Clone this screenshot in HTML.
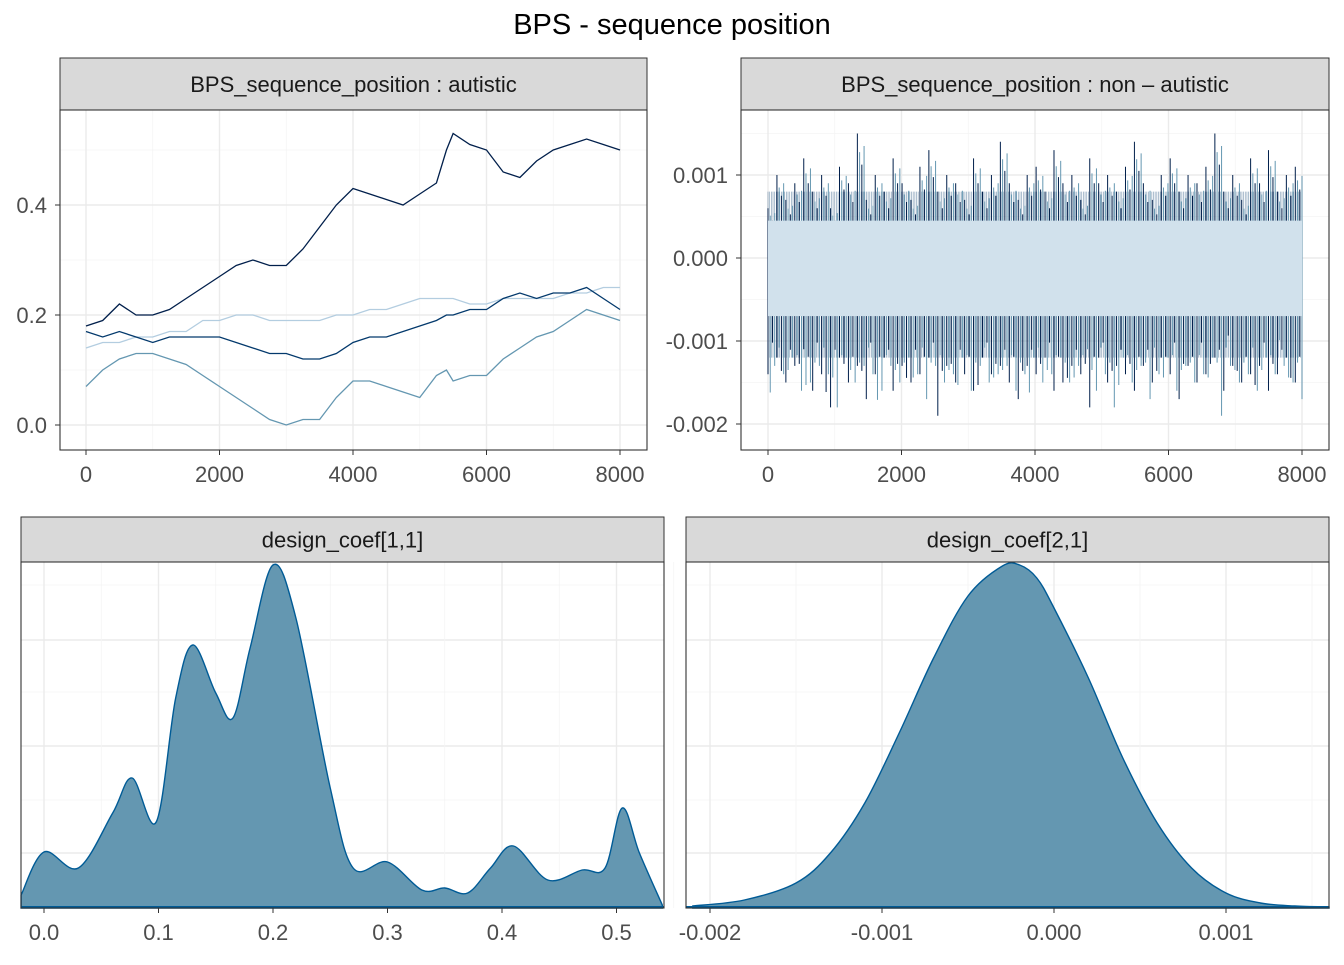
<!DOCTYPE html>
<html><head><meta charset="utf-8"><style>
body{margin:0;background:#fff}
svg text{font-family:"Liberation Sans",Arial,sans-serif}
</style></head><body>
<svg id="c" width="1344" height="960" xmlns="http://www.w3.org/2000/svg">
<text x="672" y="34" text-anchor="middle" font-size="29" fill="#000">BPS - sequence position</text>
</svg>
<script>
// ---------- data ----------
const traceIter = [0,250,500,750,1000,1250,1500,1750,2000,2250,2500,2750,3000,3250,3500,3750,4000,4250,4500,4750,5000,5250,5400,5500,5750,6000,6250,6500,6750,7000,7250,7500,7750,8000];
const chainA = [0.18,0.19,0.22,0.20,0.20,0.21,0.23,0.25,0.27,0.29,0.30,0.29,0.29,0.32,0.36,0.40,0.43,0.42,0.41,0.40,0.42,0.44,0.50,0.53,0.51,0.50,0.46,0.45,0.48,0.50,0.51,0.52,0.51,0.50];
const chainB = [0.17,0.16,0.17,0.16,0.15,0.16,0.16,0.16,0.16,0.15,0.14,0.13,0.13,0.12,0.12,0.13,0.15,0.16,0.16,0.17,0.18,0.19,0.20,0.20,0.21,0.21,0.23,0.24,0.23,0.24,0.24,0.25,0.23,0.21];
const chainC = [0.14,0.15,0.15,0.16,0.16,0.17,0.17,0.19,0.19,0.20,0.20,0.19,0.19,0.19,0.19,0.20,0.20,0.21,0.21,0.22,0.23,0.23,0.23,0.23,0.22,0.22,0.23,0.23,0.23,0.23,0.24,0.24,0.25,0.25];
const chainD = [0.07,0.10,0.12,0.13,0.13,0.12,0.11,0.09,0.07,0.05,0.03,0.01,0.00,0.01,0.01,0.05,0.08,0.08,0.07,0.06,0.05,0.09,0.10,0.08,0.09,0.09,0.12,0.14,0.16,0.17,0.19,0.21,0.20,0.19];
const spikeTop = [0.6,1.0,0.7,0.9,1.2,0.8,1.0,0.6,1.1,0.9,1.5,0.7,1.0,0.8,1.2,0.9,0.7,1.1,1.3,0.8,1.0,0.9,0.7,1.2,0.8,1.0,1.4,0.9,0.7,1.0,1.1,0.8,1.3,0.9,1.0,0.7,1.2,0.9,1.0,0.8,1.1,1.4,0.9,0.7,1.0,1.2,0.8,1.0,0.9,1.1,1.5,0.8,1.0,0.7,1.2,0.9,1.3,0.8,1.0,1.1];
const spikeBot = [-1.4,-1.2,-1.5,-1.3,-1.1,-1.6,-1.4,-1.8,-1.2,-1.5,-1.3,-1.7,-1.4,-1.2,-1.6,-1.3,-1.5,-1.4,-1.2,-1.9,-1.3,-1.5,-1.4,-1.6,-1.2,-1.4,-1.3,-1.5,-1.7,-1.3,-1.4,-1.2,-1.6,-1.5,-1.3,-1.4,-1.8,-1.2,-1.5,-1.3,-1.4,-1.6,-1.3,-1.5,-1.2,-1.4,-1.7,-1.3,-1.5,-1.4,-1.2,-1.6,-1.3,-1.5,-1.4,-1.3,-1.6,-1.4,-1.2,-1.5];
const bandTop = 0.45, bandBot = -0.7;
const dens1X = [-0.02,0.0,0.03,0.06,0.077,0.098,0.115,0.13,0.15,0.165,0.18,0.2,0.22,0.25,0.27,0.3,0.33,0.35,0.37,0.39,0.41,0.44,0.47,0.49,0.505,0.52,0.54];
const dens1Y = [13,56,40,95,130,86,210,263,215,190,260,343,290,120,40,46,18,20,15,40,62,28,38,40,100,55,3];
const dens2X = [-0.0021,-0.0018,-0.0015,-0.0013,-0.0011,-0.0009,-0.0007,-0.0005,-0.0003,-0.0002,-0.0001,0.0,0.0002,0.0004,0.0006,0.0008,0.001,0.0012,0.0014,0.0016];
const dens2Y = [2,8,25,55,105,175,250,312,342,343,330,300,230,150,85,40,15,5,2,1];

const svg = document.getElementById('c');
const NS='http://www.w3.org/2000/svg';
function el(tag, attrs, parent){const e=document.createElementNS(NS,tag);for(const k in attrs)e.setAttribute(k,attrs[k]);(parent||svg).appendChild(e);return e;}
function txt(x,y,s,size,fill,anchor){const t=el('text',{x:x,y:y,'font-size':size,fill:fill,'text-anchor':anchor||'middle'});t.textContent=s;return t;}

function panel(x0,x1,sy0,sy1,py1,label,name){
  const s=el('rect',{x:x0,y:sy0,width:x1-x0,height:sy1-sy0,fill:'#d9d9d9',stroke:'#333','stroke-width':1});
  
  
  const t=txt((x0+x1)/2,sy0+(sy1-sy0)/2+8,label,22,'#1a1a1a');
  
  
}
function border(x0,x1,y0,y1,name){
  const b=el('rect',{x:x0,y:y0,width:x1-x0,height:y1-y0,fill:'none',stroke:'#333','stroke-width':1.1});
  
  
}
function vgrid(px,y0,y1,major){el('line',{x1:px,x2:px,y1:y0,y2:y1,stroke:major?'#ebebeb':'#f4f4f4','stroke-width':major?1.4:0.8});}
function hgrid(py,x0,x1,major){el('line',{x1:x0,x2:x1,y1:py,y2:py,stroke:major?'#ebebeb':'#f4f4f4','stroke-width':major?1.4:0.8});}
function xtick(px,y,label){el('line',{x1:px,x2:px,y1:y,y2:y+5,stroke:'#333'});const t=txt(px,y+32,label,22,'#4d4d4d');}
function ytick(py,x,label){el('line',{x1:x-5,x2:x,y1:py,y2:py,stroke:'#333'});const t=txt(x-13,py+8,label,22,'#4d4d4d','end');}

// ---------- Panel 1 ----------
{
 const X0=60,X1=647,Y0=110,Y1=450;
 const sx=v=>86+v*(534/8000), sy=v=>425-v*550;
 panel(X0,X1,58,110,Y1,'BPS_sequence_position : autistic','trace-autistic');
 for(let i=1000;i<=8000;i+=2000) vgrid(sx(i),Y0,Y1,false);
 for(let v=0.1;v<0.6;v+=0.2) hgrid(sy(v),X0,X1,false);
 for(let i=0;i<=8000;i+=2000) vgrid(sx(i),Y0,Y1,true);
 [0,0.2,0.4].forEach(v=>hgrid(sy(v),X0,X1,true));
 const series=[[chainC,'#b3cde0','chain-3'],[chainD,'#6497b1','chain-4'],[chainB,'#03396c','chain-2'],[chainA,'#011f4b','chain-1']];
 series.forEach(([d,c,n])=>{
   const p=el('polyline',{points:traceIter.map((it,i)=>sx(it)+','+sy(d[i])).join(' '),fill:'none',stroke:c,'stroke-width':1.3});
   
   
 });
 border(X0,X1,Y0,Y1,'trace-autistic');
 [0,2000,4000,6000,8000].forEach(v=>xtick(sx(v),Y1,String(v)));
 [[0,'0.0'],[0.2,'0.2'],[0.4,'0.4']].forEach(([v,l])=>ytick(sy(v),X0,l));
}
// ---------- Panel 2 ----------
{
 const X0=741,X1=1329,Y0=110,Y1=450;
 const sx=v=>768+v*(534/8000), sy=v=>258-v*83000;
 panel(X0,X1,58,110,Y1,'BPS_sequence_position : non \u2013 autistic','trace-non-autistic');
 for(let i=1000;i<=8000;i+=2000) vgrid(sx(i),Y0,Y1,false);
 [-0.0015,-0.0005,0.0005,0.0015].forEach(v=>hgrid(sy(v),X0,X1,false));
 for(let i=0;i<=8000;i+=2000) vgrid(sx(i),Y0,Y1,true);
 [-0.002,-0.001,0,0.001].forEach(v=>hgrid(sy(v),X0,X1,true));
 // dense body
 for(let it=0;it<=8000;it+=25){
   el('line',{x1:sx(it),x2:sx(it),y1:sy(0.0008),y2:sy(-0.0012),stroke:'#03396c','stroke-width':0.7,opacity:0.45});
 }
 const n=spikeTop.length;
 spikeTop.forEach((t,i)=>{
   for(let k=0;k<4;k++){
     const it=(i*4+k)*8000/(n*4-1);
     const col=k%2?'#6497b1':'#011f4b';
     const tv=(k===0?t:(k===1?t*0.85:(k===2?t*0.75:t*0.9)))/1000;
     const bv=(k===0?spikeBot[i]:(k===1?spikeBot[(i+7)%n]*0.9:(k===2?spikeBot[(i+13)%n]*0.85:spikeBot[(i+29)%n])))/1000;
     const l=el('line',{x1:sx(it),x2:sx(it),y1:sy(tv),y2:sy(bv),stroke:col,'stroke-width':1});
     
     
   }
 });
 const b=el('rect',{x:sx(0),y:sy(bandTop/1000),width:sx(8000)-sx(0),height:sy(bandBot/1000)-sy(bandTop/1000),fill:'#d1e1ec'});
 
 
 border(X0,X1,Y0,Y1,'trace-non-autistic');
 [0,2000,4000,6000,8000].forEach(v=>xtick(sx(v),Y1,String(v)));
 [[0.001,'0.001'],[0,'0.000'],[-0.001,'-0.001'],[-0.002,'-0.002']].forEach(([v,l])=>ytick(sy(v),X0,l));
}
function smooth(pts){let d='M'+pts[0][0]+','+pts[0][1];for(let i=0;i<pts.length-1;i++){const p0=pts[Math.max(0,i-1)],p1=pts[i],p2=pts[i+1],p3=pts[Math.min(pts.length-1,i+2)];const c1=[p1[0]+(p2[0]-p0[0])/6,p1[1]+(p2[1]-p0[1])/6],c2=[p2[0]-(p3[0]-p1[0])/6,p2[1]-(p3[1]-p1[1])/6];d+=' C'+c1+' '+c2+' '+p2;}return d;}
function densPanel(X0,X1,sx,xs,ys,ticks,label,name){
 const Y0=562,Y1=908, sy=v=>Y1-v;
 panel(X0,X1,517,562,Y1,label,name);
 [585,640,692,746,800,853].forEach((y,i)=>hgrid(y,X0,X1,i%2===1));
 for(let i=0;i<ticks.length;i++){vgrid(sx(ticks[i][0]),Y0,Y1,true); vgrid(sx(ticks[i][0]+ticks[1][0]/2-ticks[0][0]/2),Y0,Y1,false);}
 let pts=xs.map((x,i)=>[Math.max(X0,Math.min(X1,sx(x))),sy(ys[i])]);
 const d=smooth(pts)+' L'+pts[pts.length-1][0]+','+Y1+' L'+pts[0][0]+','+Y1+' Z';
 const a=el('path',{d:d,fill:'#6497b1',stroke:'#005b96','stroke-width':1.4});
 
 
 el('line',{x1:X0,x2:X1,y1:Y1-1,y2:Y1-1,stroke:'#005b96','stroke-width':2});
 border(X0,X1,Y0,Y1,name);
 ticks.forEach(([v,l])=>xtick(sx(v),Y1,l));
}
densPanel(21,664,v=>44+v*1145,dens1X,dens1Y,[[0,'0.0'],[0.1,'0.1'],[0.2,'0.2'],[0.3,'0.3'],[0.4,'0.4'],[0.5,'0.5']],'design_coef[1,1]','density-coef-1-1');
densPanel(686,1329,v=>1054+v*172000,dens2X,dens2Y,[[-0.002,'-0.002'],[-0.001,'-0.001'],[0,'0.000'],[0.001,'0.001']],'design_coef[2,1]','density-coef-2-1');
</script>
</body></html>
